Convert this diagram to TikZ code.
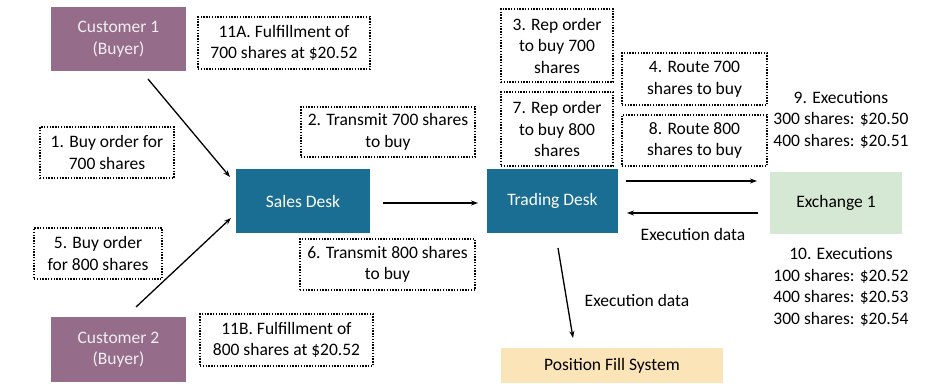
\documentclass[tikz,border=0pt]{standalone}
\usepackage{fontspec}
\setmainfont{Carlito}
\usetikzlibrary{arrows.meta}
\definecolor{cpurple}{HTML}{966C8B}
\definecolor{cblue}{HTML}{1A6E93}
\definecolor{cgreen}{HTML}{D5E8D4}
\definecolor{ctan}{HTML}{FBE4B8}
\definecolor{ctext}{HTML}{F0EEF0}
\tikzset{
  every node/.style={font=\fontsize{17.5}{21.5}\selectfont, align=center, inner sep=0pt},
  cust/.style={fill=cpurple, text=ctext, minimum width=135pt, minimum height=64pt},
  desk/.style={fill=cblue, text=white, minimum width=132pt, minimum height=64pt},
  exch/.style={fill=cgreen, text=black, minimum width=132pt, minimum height=62pt},
  pfs/.style={fill=ctan, text=black, minimum width=222pt, minimum height=35pt},
  lbl/.style={draw=black, line width=1.4pt, dash pattern=on 1.4pt off 1.4pt},
  arr/.style={line width=1.3pt, -{Stealth[length=7pt,width=5pt]}},
}
\begin{document}
\begin{tikzpicture}[x=1pt,y=-1pt]
\useasboundingbox (0,0) rectangle (933,383);
% main boxes
\node[cust] (c1) at (118.5,39) {Customer 1\\(Buyer)};
\node[cust, minimum height=65pt] (c2) at (118.5,349.5) {Customer 2\\(Buyer)};
\node[desk, minimum width=134pt] (sales) at (303,201) {Sales Desk};
\node[desk, minimum width=131pt] (trade) at (552.5,201) {Trading Desk};
\node[exch] (ex) at (836,203) {Exchange 1};
\node[pfs] (pfs) at (612,365.5) {Position Fill System};
% dotted labels
\node[lbl, minimum width=172pt, minimum height=52pt] (l11a) at (284,43) {11A. Fulfillment of\\700 shares at \$20.52};
\node[lbl, minimum width=134pt, minimum height=51pt] (l1) at (107,152.5) {1. Buy order for\\700 shares};
\node[lbl, minimum width=174pt, minimum height=50pt] (l2) at (388,132) {2. Transmit 700 shares\\to buy};
\node[lbl, minimum width=128pt, minimum height=51pt] (l5) at (98,253.5) {5. Buy order\\for 800 shares};
\node[lbl, minimum width=173pt, minimum height=52pt] (l11b) at (286.5,340) {11B. Fulfillment of\\800 shares at \$20.52};
\node[lbl, minimum width=175pt, minimum height=51pt] (l6) at (387.5,264.5) {6. Transmit 800 shares\\to buy};
\node[lbl, minimum width=112pt, minimum height=73pt] (l3) at (557,45.5) {3. Rep order\\to buy 700\\shares};
\node[lbl, minimum width=112pt, minimum height=74pt] (l7) at (557,129) {7. Rep order\\to buy 800\\shares};
\node[lbl, minimum width=145pt, minimum height=52pt] (l4) at (694.5,79) {4. Route 700\\shares to buy};
\node[lbl, minimum width=145pt, minimum height=51pt] (l8) at (694.5,140.5) {8. Route 800\\shares to buy};
% plain texts
\node (t9) at (841,119.5) {9. Executions\\300 shares: \$20.50\\400 shares: \$20.51};
\node (t10) at (841,287) {10. Executions\\100 shares: \$20.52\\400 shares: \$20.53\\300 shares: \$20.54};
\node (ed1) at (693,234) {Execution data};
\node (ed2) at (637,300) {Execution data};
% arrow end points
\coordinate (a1s) at (148,79);
\coordinate (a1e) at (230,177);
\coordinate (a2s) at (136,307);
\coordinate (a2e) at (231,218);
\coordinate (a3s) at (383,203);
\coordinate (a3e) at (478,203);
\coordinate (a4s) at (626,181);
\coordinate (a4e) at (757,181);
\coordinate (a5s) at (758,213);
\coordinate (a5e) at (627,213);
\coordinate (a6s) at (558,248);
\coordinate (a6e) at (573,338);
\draw[arr] (a1s) -- (a1e);
\draw[arr] (a2s) -- (a2e);
\draw[arr] (a3s) -- (a3e);
\draw[arr] (a4s) -- (a4e);
\draw[arr] (a5s) -- (a5e);
\draw[arr] (a6s) -- (a6e);
\end{tikzpicture}
\end{document}
